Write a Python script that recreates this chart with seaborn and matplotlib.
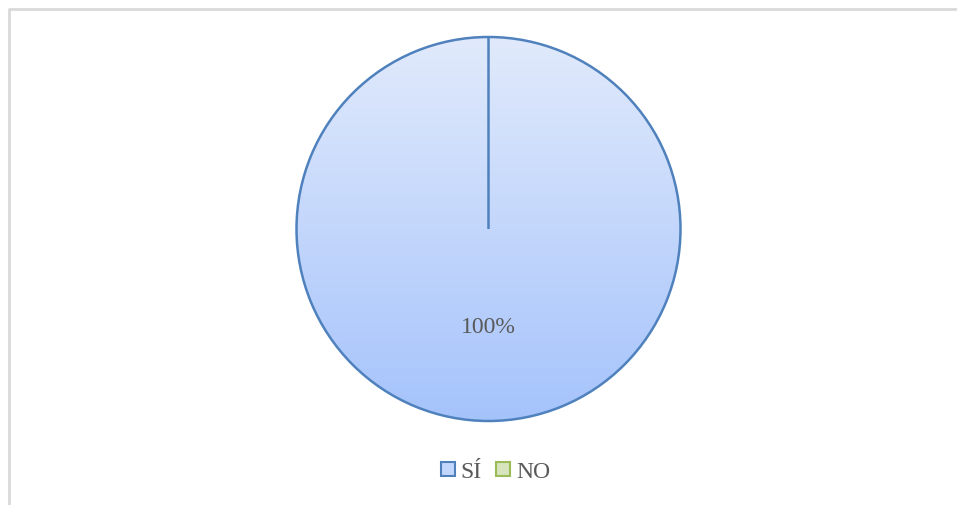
import numpy as np
import matplotlib
matplotlib.use("Agg")
import matplotlib.pyplot as plt
from matplotlib.lines import Line2D
from matplotlib.colors import LinearSegmentedColormap
import seaborn as sns

categories = ["SÍ", "NO"]
values = [100, 0]
face_colors = ["#c3d6fb", "#d7e4bd"]
edge_colors = ["#4f81bd", "#9bbb59"]

sns.set_theme(style="white")
plt.rcParams["font.family"] = ["Liberation Serif", "DejaVu Serif"]

W, H = 957, 506
fig = plt.figure(figsize=(W / 100, H / 100), dpi=100)
fig.patch.set_facecolor("white")

# border (top and left visible)
fig.add_artist(Line2D([8.5 / W, 8.5 / W, 1.0], [0.0, 1 - 9.5 / H, 1 - 9.5 / H],
                      transform=fig.transFigure, color="#d9d9d9", lw=2))

cx, cy, r = 488.5, 230, 192
pad = 6
ax = fig.add_axes([(cx - r - pad) / W, (H - cy - r - pad) / H,
                   2 * (r + pad) / W, 2 * (r + pad) / H])
lim = (r + pad) / r

wedges, texts, autotexts = ax.pie(
    values, startangle=90, counterclock=False, radius=1,
    colors=face_colors,
    autopct=lambda p: f"{p:.0f}%" if p > 0 else "",
    pctdistance=0.51,
    wedgeprops=dict(edgecolor=edge_colors[0], linewidth=1.8),
    textprops=dict(color="#595959", fontsize=17),
)
ax.set_xlim(-lim, lim)
ax.set_ylim(-lim, lim)
ax.set_aspect("equal")
ax.axis("off")

# gradient fill clipped to the main wedge
cmap = LinearSegmentedColormap.from_list("g", ["#a5c3fb", "#e1eafc"])
grad = np.linspace(0, 1, 256).reshape(-1, 1)
im = ax.imshow(grad, extent=(-1, 1, -1, 1), origin="lower", cmap=cmap,
               aspect="auto", zorder=wedges[0].get_zorder() + 0.1)
im.set_clip_path(wedges[0])
for w in wedges:
    w.set_zorder(im.get_zorder() + 0.1)
    w.set_facecolor("none")
for t in autotexts:
    t.set_zorder(im.get_zorder() + 1)
ax.set_xlim(-lim, lim)
ax.set_ylim(-lim, lim)

handles = [Line2D([0], [0], marker="s", linestyle="none", markersize=10.5,
                  markerfacecolor=fc, markeredgecolor=ec, markeredgewidth=1.5)
           for fc, ec in zip(face_colors, edge_colors)]
fig.legend(handles, categories, loc="center", bbox_to_anchor=(493 / W, 1 - 472 / H),
           ncol=2, frameon=False, handletextpad=0.05, columnspacing=0.4,
           handlelength=1.0, prop=dict(size=17), labelcolor="#595959")

fig.savefig("out.png", dpi=100, facecolor="white")
